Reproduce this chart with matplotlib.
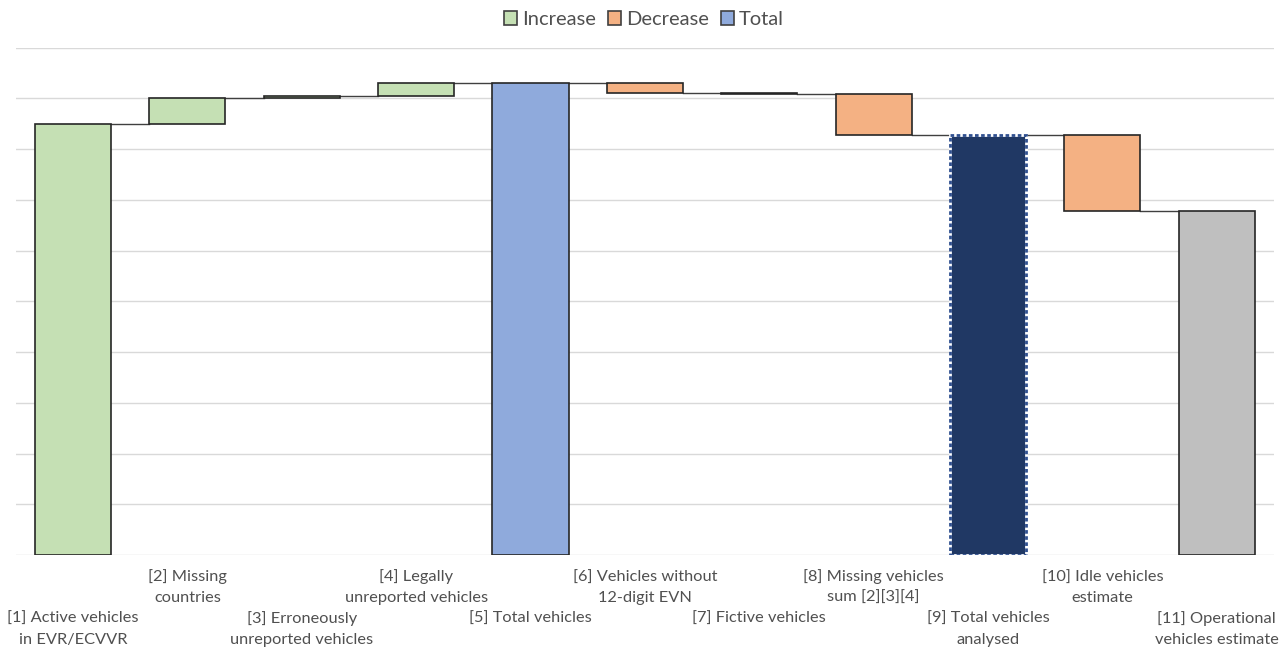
import matplotlib
matplotlib.use("Agg")
import matplotlib.pyplot as plt
from matplotlib.patches import Patch

# ---- data (thousands of vehicles) ----
categories = [
    "[1] Active vehicles\nin EVR/ECVVR",
    "[2] Missing\ncountries",
    "[3] Erroneously\nunreported vehicles",
    "[4] Legally\nunreported vehicles",
    "[5] Total vehicles",
    "[6] Vehicles without\n12-digit EVN",
    "[7] Fictive vehicles",
    "[8] Missing vehicles\nsum [2][3][4]",
    "[9] Total vehicles\nanalysed",
    "[10] Idle vehicles\nestimate",
    "[11] Operational\nvehicles estimate",
]
kinds = ["start", "increase", "increase", "increase", "total",
         "decrease", "decrease", "decrease", "total2", "decrease", "final"]
changes = [850.0, 50.0, 4.7, 25.6, 0.0, -19.7, -2.0, -80.3, 0.0, -150.5, 0.0]

legend_labels = ["Increase", "Decrease", "Total"]

colors = {
    "start": "#c5e0b4",
    "increase": "#c5e0b4",
    "decrease": "#f4b183",
    "total": "#8faadc",
    "total2": "#203864",
    "final": "#bfbfbf",
}
edge = "#262626"
text_gray = "#505050"

fig = plt.figure(figsize=(12.88, 6.47), dpi=100)
ax = fig.add_axes([0.01227, 0.1422, 0.97686, 0.7841])

width = 0.665
running = 0.0
levels = []
for i, (k, c) in enumerate(zip(kinds, changes)):
    if k in ("total", "total2", "final"):
        bottom, height = 0.0, running
    elif k == "start":
        bottom, height = 0.0, c
        running = c
    else:
        new = running + c
        bottom, height = min(running, new), abs(c)
        running = new
    levels.append(running)
    if k == "total2":
        ax.bar(i, height, bottom=bottom, width=width, color=colors[k],
               edgecolor="white", linewidth=2.0, zorder=3)
        ax.bar(i, height, bottom=bottom, width=width, color="none",
               edgecolor="#2f4f8f", linewidth=2.0, linestyle=(0, (1.3, 0.9)), zorder=4)
    else:
        ax.bar(i, height, bottom=bottom, width=width, color=colors[k],
               edgecolor=edge, linewidth=1.2, zorder=3)

# connectors
for i in range(len(categories) - 1):
    ax.plot([i + width / 2, i + 1 - width / 2], [levels[i], levels[i]],
            color="#404040", linewidth=1.0, zorder=2)

ax.set_xlim(-0.5, len(categories) - 0.5)
ax.set_ylim(0, 1000)
ax.set_yticks(range(0, 1001, 100))
ax.set_yticklabels([])
ax.set_xticks([])
ax.tick_params(left=False, bottom=False)
ax.grid(axis="y", color="#d9d9d9", linewidth=1.0, zorder=0)
for s in ax.spines.values():
    s.set_visible(False)

font = "Lato"
tr = ax.get_xaxis_transform()
line_step = 0.0405
for i, lab in enumerate(categories):
    y0 = -0.0522 if i % 2 == 1 else -0.134
    for j, line in enumerate(lab.split("\n")):
        ax.text(i, y0 - j * line_step, line, transform=tr, ha="center",
                va="baseline", fontsize=11.8, color=text_gray, family=font)

handles = [Patch(facecolor=colors["increase"], edgecolor="#404040", linewidth=1.2),
           Patch(facecolor=colors["decrease"], edgecolor="#404040", linewidth=1.2),
           Patch(facecolor=colors["total"], edgecolor="#404040", linewidth=1.2)]
fig.legend(handles, legend_labels, loc="center", bbox_to_anchor=(0.5, 0.97),
           ncol=3, frameon=False, handlelength=0.65, handleheight=0.65,
           handletextpad=0.25, columnspacing=0.6,
           prop={"family": font, "size": 14.5}, labelcolor=text_gray)

fig.savefig("out.png", dpi=100)
